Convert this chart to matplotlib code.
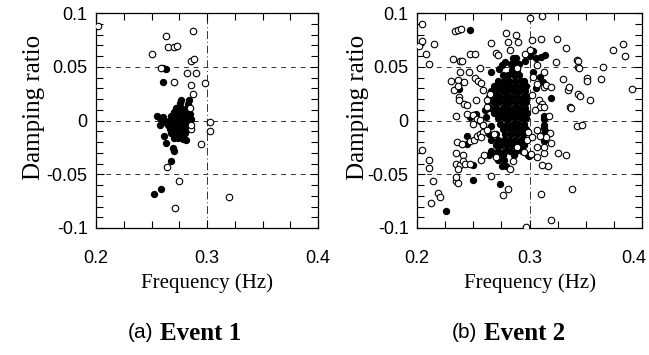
import matplotlib.pyplot as plt
import matplotlib.transforms as mtransforms
import numpy as np
from matplotlib.ticker import MultipleLocator

plt.rcParams['axes.unicode_minus'] = False

# ---- data (frequency in Hz, damping ratio) ----
x_ticks = [0.2, 0.3, 0.4]
x_labels = ['0.2', '0.3', '0.4']
y_ticks = [-0.1, -0.05, 0, 0.05, 0.1]
y_labels = ['-0.1', '-0.05', '0', '0.05', '0.1']

e1_open = [(0.2015, 0.088), (0.2627, 0.079), (0.2873, 0.083), (0.265, 0.068),
           (0.270, 0.068), (0.273, 0.069), (0.250, 0.0616), (0.2855, 0.055),
           (0.288, 0.057), (0.282, 0.044), (0.2898, 0.044), (0.259, 0.049),
           (0.270, 0.036), (0.286, 0.033), (0.2985, 0.035), (0.287, 0.025),
           (0.303, -0.0016), (0.303, -0.0094), (0.295, -0.022), (0.264, -0.043),
           (0.2747, -0.0566), (0.320, -0.071), (0.2714, -0.081), (0.285, 0.012),
           (0.2855, -0.008), (0.286, -0.004)]

e1_filled = [(0.2602, 0.049), (0.2627, 0.048), (0.2608, 0.036), (0.255, 0.004),
             (0.258, 0.002), (0.260, 0.003), (0.262, -0.001), (0.258, -0.004),
             (0.261, -0.014), (0.263, -0.021), (0.270, -0.028), (0.269, -0.026),
             (0.268, -0.0375), (0.2527, -0.0688), (0.259, -0.064), (0.2813, -0.018),
             (0.2835, 0.019), (0.2765, 0.019),
             (0.276, 0.016), (0.283, 0.015),
             (0.272, 0.012), (0.277, 0.012), (0.281, 0.011),
             (0.270, 0.008), (0.274, 0.008), (0.278, 0.007), (0.282, 0.008), (0.285, 0.006),
             (0.268, 0.004), (0.272, 0.004), (0.276, 0.003), (0.280, 0.004), (0.284, 0.003),
             (0.266, 0.000), (0.270, 0.000), (0.274, -0.001), (0.278, 0.000), (0.282, 0.000),
             (0.286, 0.001),
             (0.265, -0.004), (0.269, -0.004), (0.273, -0.005), (0.277, -0.004), (0.281, -0.004),
             (0.285, -0.003),
             (0.267, -0.008), (0.271, -0.008), (0.275, -0.009), (0.279, -0.008), (0.283, -0.008),
             (0.268, -0.012), (0.272, -0.012), (0.276, -0.013), (0.280, -0.012),
             (0.270, -0.016), (0.274, -0.016), (0.278, -0.017)]

e2_open = [(0.2045, 0.090), (0.202, 0.069), (0.204, 0.074), (0.208, 0.062), (0.215, 0.071),
           (0.211, 0.053), (0.234, 0.083), (0.2365, 0.084), (0.239, 0.085), (0.2475, 0.062),
           (0.2515, 0.062), (0.232, 0.057), (0.238, 0.055), (0.240, 0.055), (0.230, 0.037),
           (0.236, 0.0375), (0.233, 0.028), (0.236, 0.032), (0.242, 0.036), (0.2385, 0.045),
           (0.2465, 0.045), (0.2515, 0.040), (0.256, 0.0485), (0.2545, 0.037), (0.257, 0.035),
           (0.259, 0.028), (0.237, 0.022), (0.2375, 0.019), (0.2415, 0.0155), (0.244, 0.014),
           (0.252, 0.019), (0.2345, 0.004), (0.244, 0.006), (0.250, 0.005), (0.253, 0.0015),
           (0.256, 0.0005), (0.259, -0.004), (0.247, -0.019), (0.251, -0.018), (0.253, -0.014),
           (0.256, -0.0125), (0.259, -0.011), (0.2355, -0.020), (0.240, -0.022), (0.235, -0.030),
           (0.241, -0.032), (0.2345, -0.040), (0.2385, -0.041), (0.241, -0.0375), (0.2365, -0.045),
           (0.243, -0.040), (0.2345, -0.056), (0.236, -0.058), (0.235, -0.053), (0.247, -0.040),
           (0.257, -0.037), (0.2595, -0.032), (0.266, -0.052), (0.2765, -0.069), (0.2805, -0.064),
           (0.2825, -0.045), (0.2705, -0.034), (0.2045, -0.027), (0.211, -0.037), (0.2105, -0.044),
           (0.214, -0.056), (0.219, -0.067), (0.220, -0.071), (0.212, -0.077), (0.279, 0.081),
           (0.288, 0.080), (0.281, 0.073), (0.290, 0.073), (0.266, 0.072), (0.270, 0.063),
           (0.272, 0.061), (0.2825, 0.066), (0.3005, 0.095), (0.311, 0.097), (0.302, 0.075),
           (0.310, 0.0755), (0.3245, 0.0755), (0.3325, 0.067), (0.3235, 0.054), (0.3295, 0.039),
           (0.342, 0.056), (0.3435, 0.055), (0.3435, 0.050), (0.344, 0.0485), (0.334, 0.028),
           (0.3355, 0.031), (0.3435, 0.025), (0.345, 0.0225), (0.3535, 0.019), (0.351, 0.040),
           (0.3515, 0.037), (0.3635, 0.039), (0.365, 0.050), (0.374, 0.0655), (0.3835, 0.071),
           (0.385, 0.060), (0.3915, 0.0295), (0.336, 0.013), (0.3365, 0.012), (0.342, -0.0055),
           (0.347, -0.004), (0.319, -0.021), (0.3325, -0.032), (0.325, -0.030), (0.316, -0.042),
           (0.311, -0.041), (0.310, -0.068), (0.338, -0.064), (0.319, -0.093), (0.2965, -0.099),
           (0.307, -0.034), (0.3125, -0.030), (0.3125, -0.025), (0.318, -0.012), (0.315, -0.0155),
           (0.309, -0.014), (0.3065, -0.009), (0.308, 0.019), (0.311, 0.0155), (0.309, 0.0125),
           (0.3125, 0.013), (0.307, 0.034), (0.3125, 0.031), (0.315, 0.033), (0.3195, 0.031),
           (0.3035, 0.0405), (0.302, 0.0235), (0.305, 0.0095), (0.317, 0.0045), (0.3005, 0.0655),
           (0.296, 0.0615), (0.2885, 0.0485), (0.3065, 0.0515), (0.3125, 0.045), (0.2975, -0.018),
           (0.302, -0.0155), (0.299, -0.011), (0.3065, -0.025), (0.2855, -0.0375), (0.3015, -0.031),
           (0.2955, -0.0295), (0.2885, -0.025), (0.262, 0.0125), (0.265, 0.025), (0.262, 0.019),
           (0.262, -0.009), (0.250, -0.003), (0.257, -0.0155), (0.268, -0.0125)]

e2_filled = [(0.285, 0.058), (0.288, 0.058),
             (0.284, 0.053), (0.287, 0.053), (0.291, 0.053),
             (0.2845, 0.047), (0.289, 0.047),
             (0.276, 0.042), (0.281, 0.042), (0.286, 0.042), (0.291, 0.042),
             (0.272, 0.037), (0.277, 0.037), (0.282, 0.037), (0.287, 0.037), (0.292, 0.037),
             (0.295, 0.037),
             (0.268, 0.032), (0.273, 0.032), (0.278, 0.032), (0.283, 0.032), (0.288, 0.032),
             (0.293, 0.032), (0.297, 0.032),
             (0.266, 0.027), (0.271, 0.027), (0.276, 0.027), (0.281, 0.027), (0.286, 0.027),
             (0.291, 0.027), (0.296, 0.027),
             (0.264, 0.022), (0.269, 0.022), (0.274, 0.022), (0.279, 0.022), (0.284, 0.022),
             (0.289, 0.022), (0.294, 0.022), (0.298, 0.022),
             (0.263, 0.017), (0.268, 0.017), (0.273, 0.017), (0.278, 0.017), (0.283, 0.017),
             (0.288, 0.017), (0.293, 0.017), (0.297, 0.017),
             (0.265, 0.012), (0.270, 0.012), (0.276, 0.012), (0.281, 0.012), (0.286, 0.012),
             (0.291, 0.012), (0.296, 0.012),
             (0.268, 0.007), (0.274, 0.007), (0.279, 0.007), (0.284, 0.007), (0.289, 0.007),
             (0.294, 0.007), (0.298, 0.007),
             (0.272, 0.002), (0.277, 0.002), (0.282, 0.002), (0.287, 0.002), (0.292, 0.002),
             (0.297, 0.002),
             (0.274, -0.003), (0.280, -0.003), (0.285, -0.003), (0.290, -0.003), (0.295, -0.003),
             (0.276, -0.008), (0.283, -0.008), (0.288, -0.008), (0.293, -0.008), (0.297, -0.008),
             (0.264, -0.013), (0.270, -0.013), (0.278, -0.013), (0.284, -0.013), (0.289, -0.013),
             (0.294, -0.013),
             (0.266, -0.018), (0.272, -0.018), (0.277, -0.018), (0.282, -0.018), (0.287, -0.018),
             (0.292, -0.018), (0.297, -0.018),
             (0.270, -0.023), (0.275, -0.023), (0.280, -0.023), (0.285, -0.023), (0.290, -0.023),
             (0.295, -0.023),
             (0.266, -0.028), (0.272, -0.028), (0.278, -0.028), (0.283, -0.028), (0.288, -0.028),
             (0.293, -0.028),
             (0.264, -0.032), (0.270, -0.032), (0.276, -0.032), (0.286, -0.032),
             (0.272, -0.037), (0.277, -0.037), (0.2755, -0.042), (0.279, -0.042),
             (0.247, 0.003), (0.2525, 0.006), (0.256, 0.000), (0.259, -0.004), (0.261, 0.003),
             (0.244, -0.014), (0.244, -0.022), (0.2495, -0.041), (0.2375, 0.029), (0.266, -0.005),
             (0.262, -0.009), (0.258, -0.012), (0.260, 0.010),
             (0.266, 0.045), (0.2725, 0.048), (0.2475, 0.084), (0.2755, 0.052), (0.278, 0.054),
             (0.296, 0.055), (0.300, 0.060), (0.303, 0.065), (0.3055, 0.058), (0.310, 0.059),
             (0.314, 0.061), (0.3095, 0.0405), (0.312, 0.036), (0.3195, 0.021), (0.303, 0.045),
             (0.306, 0.030),
             (0.313, 0.004), (0.313, 0.001), (0.3125, -0.004), (0.313, -0.007), (0.3135, -0.010),
             (0.313, -0.013), (0.3125, -0.016), (0.313, -0.019),
             (0.299, -0.032), (0.2995, -0.033), (0.274, -0.059), (0.250, -0.055), (0.226, -0.084)]

panels = [('(a)', 'Event 1', e1_open, e1_filled),
          ('(b)', 'Event 2', e2_open, e2_filled)]

fig = plt.figure(figsize=(6.49, 3.55), dpi=100)
W, H = 649, 355
boxes = [[96 / W, 1 - 228 / H, 222 / W, 215 / H],
         [417 / W, 1 - 228 / H, 225 / W, 215 / H]]
cap_x = [(128, 160), (452, 484)]
ylab_x = [-0.23, -0.215]

for i, (box, (letter, event, op, fi), cx) in enumerate(zip(boxes, panels, cap_x)):
    ax = fig.add_axes(box)
    for yy in [0.05, 0, -0.05]:
        ax.axhline(yy, color='#333333', lw=0.7, dashes=(5, 5), zorder=1)
    ax.axvline(0.3, color='#333333', lw=0.7, dashes=(8, 3, 1, 3), zorder=1)

    fx, fy = np.array(fi).T
    ox, oy = np.array(op).T
    ax.scatter(fx, fy, s=28, color='black', lw=0, zorder=3)
    ax.scatter(ox, oy, s=22, facecolors='white', edgecolors='black', lw=0.8, zorder=4)

    ax.set_xlim(0.2, 0.4)
    ax.set_ylim(-0.1, 0.1)
    ax.set_xticks(x_ticks)
    ax.set_xticklabels(x_labels, family='Liberation Sans', fontsize=13)
    ax.set_yticks(y_ticks)
    ax.set_yticklabels(y_labels, family='Liberation Sans', fontsize=13)
    ax.xaxis.set_minor_locator(MultipleLocator(0.025))
    ax.yaxis.set_minor_locator(MultipleLocator(0.01))
    ax.tick_params(which='both', direction='in', top=True, right=True, width=0.8)
    ax.tick_params(which='major', length=6)
    ax.tick_params(which='minor', length=5)
    ax.tick_params(axis='x', which='major', pad=16)
    ax.tick_params(axis='y', which='major', pad=6)
    for sp in ax.spines.values():
        sp.set_linewidth(0.9)
    if i == 1:
        lab = ax.get_xticklabels()[-1]
        lab.set_transform(lab.get_transform() +
                          mtransforms.ScaledTranslation(-6 / 72, 0, fig.dpi_scale_trans))

    ax.set_xlabel('Frequency (Hz)', family='Liberation Serif', fontsize=15, labelpad=4)
    ax.set_ylabel('Damping ratio', family='Liberation Serif', fontsize=18)
    ax.yaxis.set_label_coords(ylab_x[i], 0.56)

    fig.text(cx[0] / W, 1 - 333 / H, letter, family='Liberation Sans', fontsize=15,
             ha='left', va='center')
    fig.text(cx[1] / W, 1 - 333 / H, event, family='Liberation Serif', fontsize=18,
             fontweight='bold', ha='left', va='center')

fig.savefig('out.png', dpi=100)
